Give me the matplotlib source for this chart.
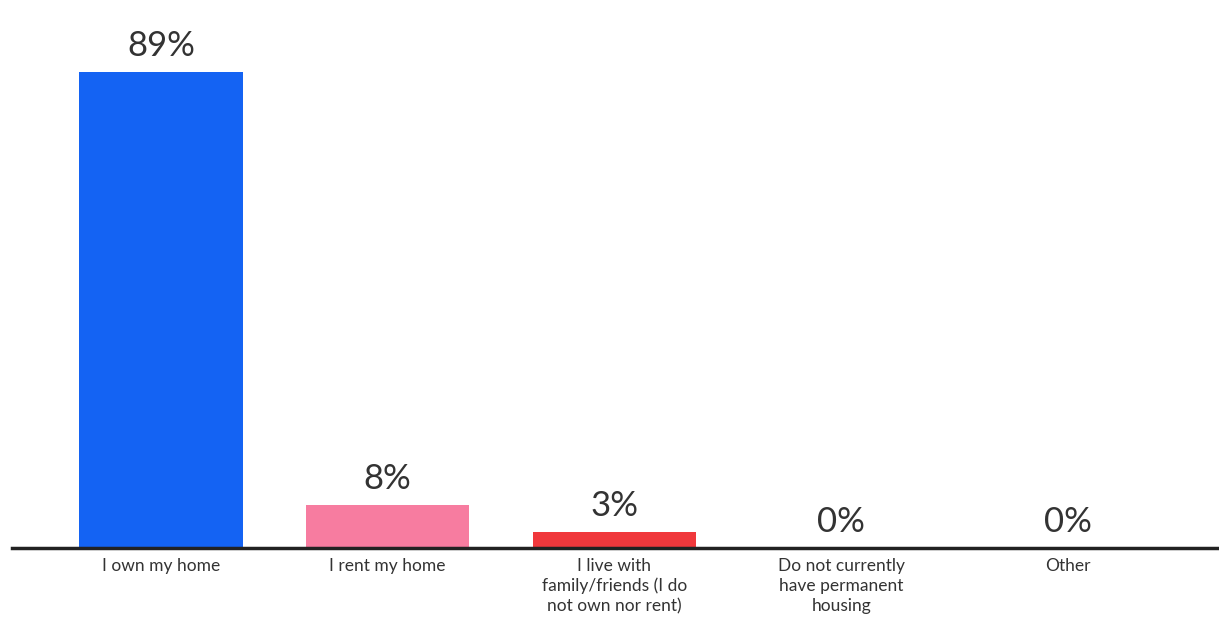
import matplotlib.pyplot as plt
import numpy as np

categories = ['I own my home', 'I rent my home',
              'I live with\nfamily/friends (I do\nnot own nor rent)',
              'Do not currently\nhave permanent\nhousing', 'Other']
values = [89, 8, 3, 0, 0]
colors = ['#1463f3', '#f77ca0', '#f0383c', '#f0383c', '#f0383c']

plt.rcParams['font.family'] = ['Lato', 'DejaVu Sans']

fig = plt.figure(figsize=(12.19, 6.42), dpi=100)
ax = fig.add_axes([12 / 1219, 94 / 642, 1207 / 1219, (535 / 642)])

x = np.arange(len(categories))
ax.bar(x, values, width=0.72, color=colors)

for xi, v in zip(x, values):
    ax.text(xi, v + 1.9, f'{v}%', ha='center', va='bottom',
            fontsize=25, color='#333333')

ax.set_xlim(-0.657, 4.666)
ax.set_ylim(0, 100)
ax.set_xticks(x)
ax.set_xticklabels(categories, fontsize=12.5, color='#333333', linespacing=1.3)
ax.tick_params(axis='x', length=0, pad=7)
ax.set_yticks([])

for side in ['top', 'right', 'left']:
    ax.spines[side].set_visible(False)
ax.spines['bottom'].set_linewidth(2.5)
ax.spines['bottom'].set_color('#222222')

fig.savefig('out.png', dpi=100)
